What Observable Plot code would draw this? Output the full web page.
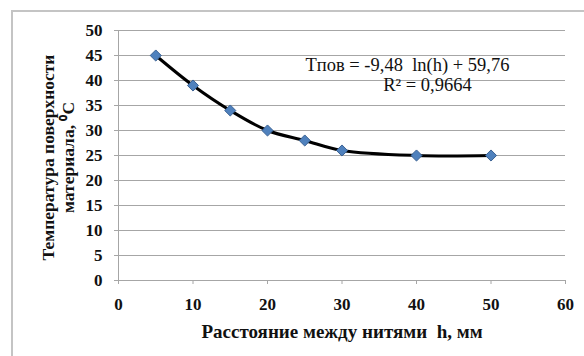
<!DOCTYPE html>
<html>
<head>
<meta charset="utf-8">
<script src="https://cdn.jsdelivr.net/npm/d3@7"></script>
<script src="https://cdn.jsdelivr.net/npm/@observablehq/plot@0.6"></script>
<style>
  html, body { margin: 0; padding: 0; background: #fff; }
  #wrap { position: relative; width: 584px; height: 356px; overflow: hidden; }
  #border { position: absolute; left: 11px; top: 10px; width: 600px; height: 400px;
            border-left: 2px solid #c4c4c4; border-top: 2px solid #c4c4c4; }
  #chart { position: absolute; left: 0; top: 0; }
</style>
</head>
<body>
<div id="wrap"><div id="border"></div><div id="chart"></div></div>
<script>
const distances = [5, 10, 15, 20, 25, 30, 40, 50];
const temperatures = [45, 39, 34, 30, 28, 26, 25, 25];
const xTicks = [0, 10, 20, 30, 40, 50, 60];
const yTicks = [0, 5, 10, 15, 20, 25, 30, 35, 40, 45, 50];
const xTitle = "Расстояние между нитями  h, мм";
const yTitle = "Температура поверхности\nматериала, ⁰C";
const equation = "Tпов = -9,48  ln(h) + 59,76";
const rSquared = "R² = 0,9664";

const data = distances.map((h, i) => ({h, t: temperatures[i]}));

const chart = Plot.plot({
  width: 584,
  height: 356,
  marginLeft: 118,
  marginRight: 19,
  marginTop: 30,
  marginBottom: 76,
  style: "background: transparent; overflow: visible; font-family: 'Liberation Serif', serif;",
  x: {domain: [0, 60], ticks: xTicks, label: null},
  y: {domain: [0, 50], ticks: yTicks, label: null},
  marks: [
    Plot.gridY(yTicks, {stroke: "#a6a6a6", strokeOpacity: 1, strokeWidth: 1}),
    Plot.ruleX([0], {stroke: "#a6a6a6"}),
    Plot.axisX({ticks: xTicks, tickSize: 4, tickPadding: 13, stroke: "#a6a6a6",
      fontSize: 17, fontWeight: "bold", fill: "#111", tickFormat: d => d}),
    Plot.axisY({ticks: yTicks, tickSize: 4, tickPadding: 12, stroke: "#a6a6a6",
      fontSize: 17, fontWeight: "bold", fill: "#111", tickFormat: d => d}),
    Plot.line(data, {x: "h", y: "t", curve: "catmull-rom", stroke: "#000", strokeWidth: 3}),
    Plot.dot(data, {x: "h", y: "t", symbol: "diamond2", r: 5, fill: "#4f81bd", stroke: "#3a6193", strokeWidth: 1}),
    Plot.text([equation], {frameAnchor: "top-left", dx: 187, dy: 35, fontSize: 18.5, fill: "#111", textAnchor: "start", lineAnchor: "middle"}),
    Plot.text([rSquared], {frameAnchor: "top-left", dx: 309, dy: 55, fontSize: 18.5, fill: "#111", textAnchor: "middle", lineAnchor: "middle"}),
    Plot.text([xTitle], {frameAnchor: "bottom", dy: 51, fontSize: 19, fontWeight: "bold", fill: "#111", lineAnchor: "middle"}),
    Plot.text([yTitle], {frameAnchor: "left", dx: -61, dy: 2, rotate: -90, fontSize: 17.5, fontWeight: "bold", fill: "#111", textAnchor: "middle", lineAnchor: "middle", lineHeight: 1.15})
  ]
});
document.getElementById("chart").appendChild(chart);
</script>
</body>
</html>
